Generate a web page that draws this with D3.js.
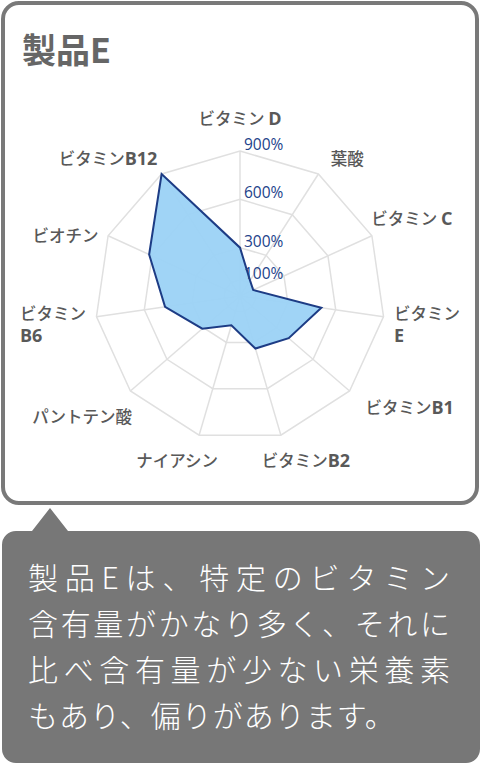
<!DOCTYPE html>
<html lang="ja">
<head>
<meta charset="utf-8">
<script src="https://cdn.jsdelivr.net/npm/d3@7"></script>
<style>
  html, body { margin: 0; padding: 0; background: #fff; }
  svg { display: block; }
</style>
</head>
<body>
<div id="chart"></div>
<script>
// categories clockwise from the top: [kana part, latin part]
const categories = [
    ['ビタミン ', 'D'], ['葉酸', ''], ['ビタミン ', 'C'], ['ビタミン\n', 'E'],
    ['ビタミン', 'B1'], ['ビタミン', 'B2'], ['ナイアシン', ''], ['パントテン酸', ''],
    ['ビタミン\n', 'B6'], ['ビオチン', ''], ['ビタミン', 'B12']
];
// content vs. reference (%)
const values = [300, 115, 90, 510, 400, 340, 190, 310, 470, 620, 900];
const ringTicks = [100, 300, 600, 900];
const title = '製品E';
const noteLines = [
    '製品Eは、特定のビタミン',
    '含有量がかなり多く、それに',
    '比べ含有量が少ない栄養素',
    'もあり、偏りがあります。'
];

const W = 481, H = 764;
const cx = 240, cy = 296, R = 145;
const n = categories.length;

// where each category label sits, relative to its outer grid vertex
const labelNudge = [
    [0, -33], [29, -16], [40, -18], [43.5, 7.4], [60, 16], [25, 25],
    [-22, 25], [-48, 25], [-43.5, 7.4], [-42.6, -1], [-53.6, -16]
];

const svg = d3.select('#chart').append('svg')
    .attr('width', W).attr('height', H);

// card frame
svg.append('rect')
    .attr('x', 3).attr('y', 3).attr('width', 474).attr('height', 500)
    .attr('rx', 16).attr('fill', '#fff')
    .attr('stroke', '#797979').attr('stroke-width', 4);

svg.append('text')
    .attr('x', 22).attr('y', 63)
    .attr('font-family', '"Noto Sans CJK JP", "Noto Sans"')
    .attr('font-size', 34).attr('font-weight', 'bold')
    .attr('fill', '#666')
    .text(title);

const angle = d3.scaleLinear().domain([0, n]).range([0, 2 * Math.PI]);
const r = d3.scaleLinear().domain([0, 900]).range([0, R]);
const pt = (i, v) => [cx + r(v) * Math.sin(angle(i)), cy - r(v) * Math.cos(angle(i))];

const line = d3.line().curve(d3.curveLinearClosed);
const g = svg.append('g');

// grid rings
g.selectAll('path.ring')
    .data(ringTicks)
    .join('path')
    .attr('class', 'ring')
    .attr('d', t => line(d3.range(n).map(i => pt(i, t))))
    .attr('fill', 'none').attr('stroke', '#e0e0e0').attr('stroke-width', 1.5);

// spokes
g.selectAll('line.spoke')
    .data(d3.range(n))
    .join('line')
    .attr('class', 'spoke')
    .attr('x1', cx).attr('y1', cy)
    .attr('x2', i => pt(i, 900)[0]).attr('y2', i => pt(i, 900)[1])
    .attr('stroke', '#e0e0e0').attr('stroke-width', 1.5);

// data area
g.append('path')
    .attr('d', line(values.map((v, i) => pt(i, v))))
    .attr('fill', '#9bd2f5').attr('fill-opacity', 0.95)
    .attr('stroke', '#1d3c85').attr('stroke-width', 2)
    .attr('stroke-linejoin', 'miter');

// ring tick labels
g.selectAll('text.tick')
    .data(ringTicks)
    .join('text')
    .attr('class', 'tick')
    .attr('x', cx + 4)
    .attr('y', t => cy - r(t) - 1)
    .attr('font-family', '"Open Sans", "Noto Sans"')
    .attr('font-size', 15.5)
    .attr('fill', '#23428a')
    .text(t => t + '%');

// category labels
const lab = g.selectAll('g.lab')
    .data(categories)
    .join('g')
    .attr('class', 'lab');

lab.each(function (c, i) {
    const el = d3.select(this);
    const t = el.append('text')
        .attr('font-family', '"Noto Sans CJK JP", "Noto Sans"')
        .attr('font-size', 16.5)
        .attr('font-weight', 500)
        .attr('fill', '#595959');
    const kana = c[0].replace('\n', '');
    const br = c[0].includes('\n');
    t.append('tspan').attr('x', 0).attr('y', 0).text(kana);
    const latin = t.append('tspan')
        .attr('font-family', '"Open Sans", "Noto Sans"')
        .attr('font-weight', 'bold')
        .attr('font-size', 18)
        .text(c[1]);
    if (br) latin.attr('x', 0).attr('y', 22);

    const bb = t.node().getBBox();
    const [vx, vy] = pt(i, 900);
    const tx = vx + labelNudge[i][0] - (bb.x + bb.width / 2);
    const ty = vy + labelNudge[i][1] - (bb.y + bb.height / 2);
    el.attr('transform', `translate(${tx},${ty})`);
});

// speech bubble
const bub = d3.path();
const bx0 = 2, bx1 = 480, by0 = 531, by1 = 763, rr = 14;
bub.moveTo(bx0 + rr, by0);
bub.lineTo(32, by0);
bub.lineTo(50, 508);
bub.lineTo(68, by0);
bub.lineTo(bx1 - rr, by0);
bub.arcTo(bx1, by0, bx1, by0 + rr, rr);
bub.lineTo(bx1, by1 - rr);
bub.arcTo(bx1, by1, bx1 - rr, by1, rr);
bub.lineTo(bx0 + rr, by1);
bub.arcTo(bx0, by1, bx0, by1 - rr, rr);
bub.lineTo(bx0, by0 + rr);
bub.arcTo(bx0, by0, bx0 + rr, by0, rr);
bub.closePath();

svg.append('path')
    .attr('d', bub.toString())
    .attr('fill', '#777');

svg.selectAll('text.note')
    .data(noteLines)
    .join('text')
    .attr('class', 'note')
    .attr('x', 28)
    .attr('y', (d, i) => 589 + i * 46)
    .attr('font-family', '"Noto Sans CJK JP", "Noto Sans"')
    .attr('font-size', 30)
    .attr('font-weight', 300)
    .attr('fill', '#fff')
    .attr('letter-spacing', (d, i) => i < noteLines.length - 1 ? null : 1)
    .attr('textLength', (d, i) => i < noteLines.length - 1 ? 422 : null)
    .attr('lengthAdjust', 'spacing')
    .text(d => d);
</script>
</body>
</html>
